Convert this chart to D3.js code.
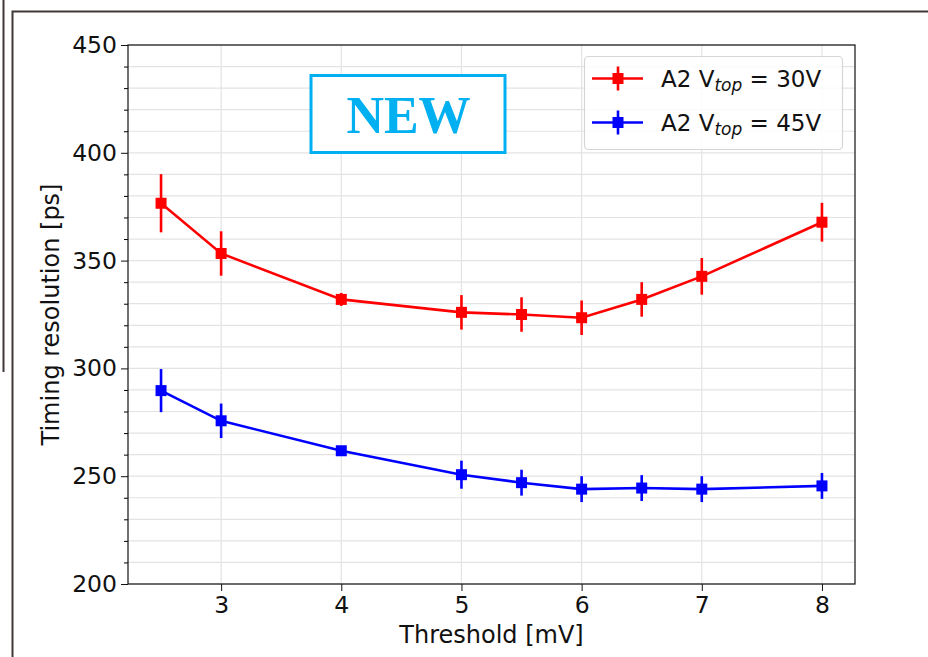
<!DOCTYPE html>
<html>
<head>
<meta charset="utf-8">
<script src="https://cdn.jsdelivr.net/npm/d3@7"></script>
<style>
  body { margin: 0; background: #fff; }
  text { font-family: "DejaVu Sans", sans-serif; }
</style>
</head>
<body>
<div id="container"></div>
<script>
/* DATA */
const thresholds = [2.5, 3, 4, 5, 5.5, 6, 6.5, 7, 8];
const res30 = [376.6, 353.3, 332, 326, 325, 323.5, 332, 342.7, 367.8];
const err30 = [13.5, 10.3, 3, 8, 8, 8, 8, 8.5, 9];
const res45 = [289.7, 275.7, 261.8, 250.7, 247, 244, 244.5, 244, 245.5];
const err45 = [10, 8, 2, 6.5, 6, 6, 6, 6, 6];
const xTicks = [3, 4, 5, 6, 7, 8];
const yTicks = [200, 250, 300, 350, 400, 450];
const seriesNames = ["30V", "45V"];

const width = 928, height = 657,
  margin = { top: 45, right: 73, bottom: 73, left: 128 };

const series = [
  { name: seriesNames[0], color: "#ff0000", values: res30, errs: err30 },
  { name: seriesNames[1], color: "#0000ff", values: res45, errs: err45 }
];

const svg = d3.select("#container").append("svg")
  .attr("width", width)
  .attr("height", height);

// frame around the screenshot
svg.append("line")
  .attr("x1", 3.5).attr("x2", 3.5).attr("y1", 0).attr("y2", 372)
  .attr("stroke", "#3f3836").attr("stroke-width", 2);
svg.append("path")
  .attr("d", `M${width},11.5 H12.5 V${height}`)
  .attr("fill", "none")
  .attr("stroke", "#3f3836").attr("stroke-width", 2);

/* SCALES */
const xScale = d3.scaleLinear()
  .domain([2.225, 8.275])
  .range([margin.left, width - margin.right]);

const yScale = d3.scaleLinear()
  .domain([200, 450])
  .range([height - margin.bottom, margin.top]);

const minorY = d3.range(200, 451, 10);

// grid
svg.append("g").selectAll("line")
  .data(minorY)
  .join("line")
  .attr("x1", margin.left).attr("x2", width - margin.right)
  .attr("y1", d => yScale(d)).attr("y2", d => yScale(d))
  .attr("stroke", "#e3e3e3").attr("stroke-width", 1.2);
svg.append("g").selectAll("line")
  .data(xTicks)
  .join("line")
  .attr("x1", d => xScale(d)).attr("x2", d => xScale(d))
  .attr("y1", margin.top).attr("y2", height - margin.bottom)
  .attr("stroke", "#e3e3e3").attr("stroke-width", 1.2);

/* AXES */
const xAxis = d3.axisBottom(xScale)
  .tickValues(xTicks)
  .tickFormat(d3.format("d"))
  .tickSize(7).tickPadding(5);

const yAxis = d3.axisLeft(yScale)
  .tickValues(yTicks)
  .tickFormat(d3.format("d"))
  .tickSize(7).tickPadding(4);

const yMinor = d3.axisLeft(yScale)
  .tickValues(minorY.filter(d => d % 50 !== 0))
  .tickFormat("")
  .tickSize(4);

const xAxisGroup = svg.append("g")
  .attr("transform", `translate(0, ${height - margin.bottom})`)
  .call(xAxis);

const yAxisGroup = svg.append("g")
  .attr("transform", `translate(${margin.left}, 0)`)
  .call(yAxis);

svg.append("g")
  .attr("transform", `translate(${margin.left}, 0)`)
  .call(yMinor)
  .select(".domain").remove();

[xAxisGroup, yAxisGroup].forEach(g => {
  g.selectAll("text").attr("font-size", 23.5).attr("fill", "#111")
    .attr("font-family", "DejaVu Sans");
  g.selectAll(".tick line").attr("stroke", "#111");
  g.select(".domain").remove();
});

// spines
svg.append("rect")
  .attr("x", margin.left).attr("y", margin.top)
  .attr("width", width - margin.left - margin.right)
  .attr("height", height - margin.top - margin.bottom)
  .attr("fill", "none").attr("stroke", "#111").attr("stroke-width", 1.2);

// axis labels
svg.append("text")
  .attr("x", (margin.left + width - margin.right) / 2)
  .attr("y", 643)
  .attr("text-anchor", "middle")
  .attr("font-size", 24)
  .attr("fill", "#111")
  .text("Threshold [mV]");

svg.append("text")
  .attr("transform", `translate(59, ${(margin.top + height - margin.bottom) / 2}) rotate(-90)`)
  .attr("text-anchor", "middle")
  .attr("font-size", 24)
  .attr("fill", "#111")
  .text("Timing resolution [ps]");

/* LINES + ERROR BARS */
const lineGen = d3.line()
  .x((d, i) => xScale(thresholds[i]))
  .y(d => yScale(d));

series.forEach(s => {
  const g = svg.append("g");
  g.append("path")
    .datum(s.values)
    .attr("fill", "none")
    .attr("stroke", s.color)
    .attr("stroke-width", 2.6)
    .attr("d", lineGen);

  g.selectAll(".err")
    .data(s.values)
    .join("line")
    .attr("class", "err")
    .attr("x1", (d, i) => xScale(thresholds[i]))
    .attr("x2", (d, i) => xScale(thresholds[i]))
    .attr("y1", (d, i) => yScale(d - s.errs[i]))
    .attr("y2", (d, i) => yScale(d + s.errs[i]))
    .attr("stroke", s.color)
    .attr("stroke-width", 2.6);

  g.selectAll(".pt")
    .data(s.values)
    .join("rect")
    .attr("class", "pt")
    .attr("x", (d, i) => xScale(thresholds[i]) - 5.5)
    .attr("y", d => yScale(d) - 5.5)
    .attr("width", 11).attr("height", 11)
    .attr("fill", s.color);
});

/* NEW BOX */
svg.append("rect")
  .attr("x", 311).attr("y", 75.5)
  .attr("width", 194).attr("height", 77)
  .attr("fill", "#fff")
  .attr("stroke", "#00b0f0").attr("stroke-width", 3);
svg.append("text")
  .attr("x", 408.5).attr("y", 133)
  .attr("text-anchor", "middle")
  .style("font-family", "'Liberation Serif', serif")
  .attr("font-weight", "bold")
  .attr("font-size", 52)
  .attr("fill", "#00b0f0")
  .text("NEW");

/* LEGEND */
const legend = svg.append("g");
legend.append("rect")
  .attr("x", 584.5).attr("y", 56.5)
  .attr("width", 258).attr("height", 93)
  .attr("rx", 4)
  .attr("fill", "rgba(255,255,255,0.85)")
  .attr("stroke", "#d6d6d6").attr("stroke-width", 1.2);

series.forEach((s, i) => {
  const y = 78.5 + i * 44;
  legend.append("line")
    .attr("x1", 592).attr("x2", 643).attr("y1", y).attr("y2", y)
    .attr("stroke", s.color).attr("stroke-width", 2.6);
  legend.append("line")
    .attr("x1", 618).attr("x2", 618).attr("y1", y - 12).attr("y2", y + 12)
    .attr("stroke", s.color).attr("stroke-width", 2.6);
  legend.append("rect")
    .attr("x", 612.5).attr("y", y - 5.5)
    .attr("width", 11).attr("height", 11)
    .attr("fill", s.color);
  const t = legend.append("text")
    .attr("x", 661).attr("y", y + 8)
    .attr("font-size", 23)
    .attr("fill", "#111");
  t.append("tspan").text("A2 V");
  t.append("tspan").attr("font-style", "italic").attr("font-size", 17)
    .attr("dy", 4).text("top");
  t.append("tspan").attr("dy", -4).text(" = " + s.name);
});
</script>
</body>
</html>
